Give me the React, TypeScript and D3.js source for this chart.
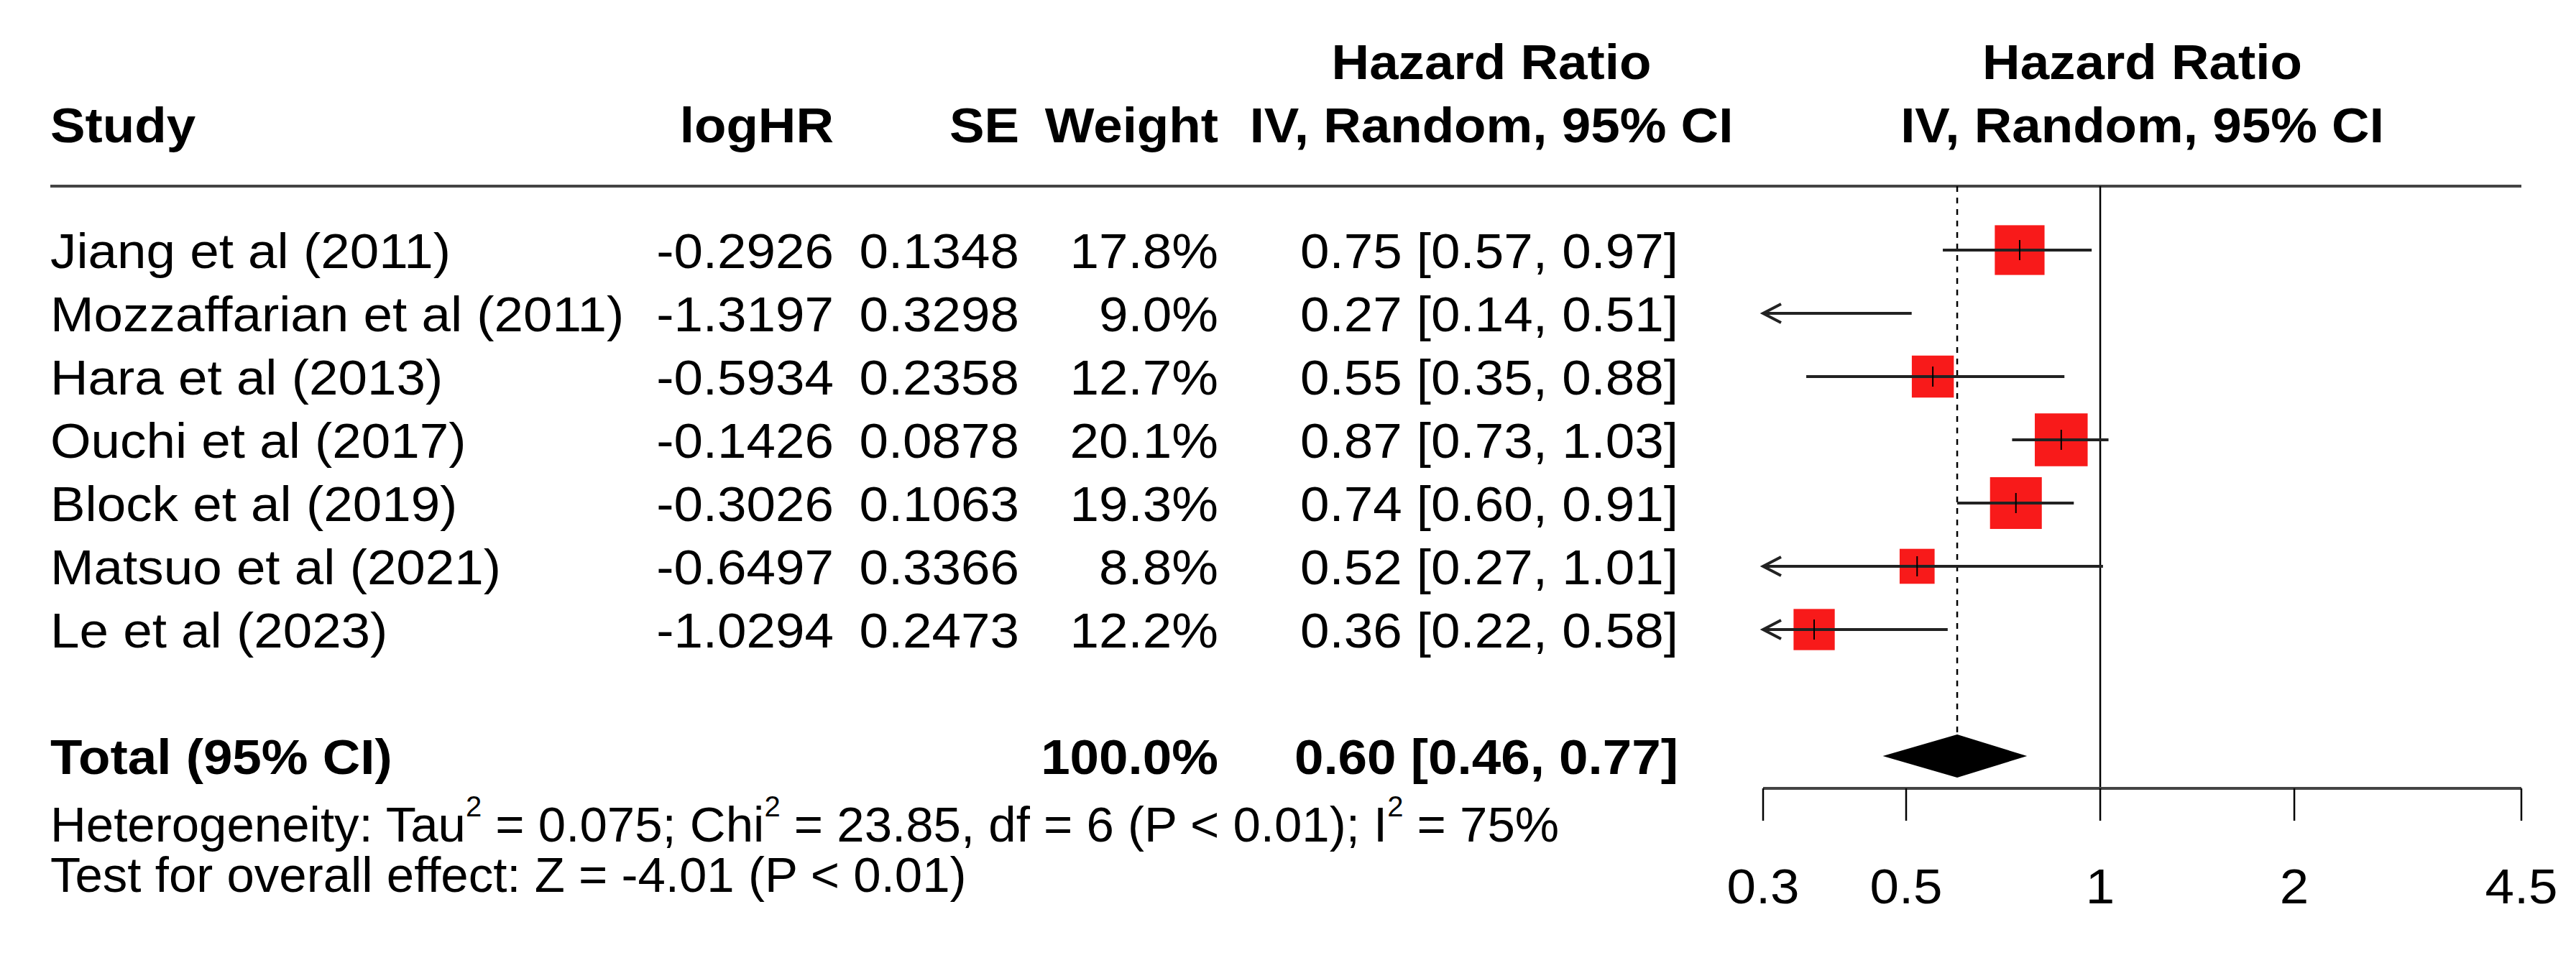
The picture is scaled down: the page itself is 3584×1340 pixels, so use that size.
import React from "react";
import * as d3 from "d3";

// study rows
const studies = [
  "Jiang et al (2011)",
  "Mozzaffarian et al (2011)",
  "Hara et al (2013)",
  "Ouchi et al (2017)",
  "Block et al (2019)",
  "Matsuo et al (2021)",
  "Le et al (2023)",
];
const logHR = ["-0.2926", "-1.3197", "-0.5934", "-0.1426", "-0.3026", "-0.6497", "-1.0294"];
const seValues = ["0.1348", "0.3298", "0.2358", "0.0878", "0.1063", "0.3366", "0.2473"];
const weights = [17.8, 9.0, 12.7, 20.1, 19.3, 8.8, 12.2];
const hr = [0.75, 0.27, 0.55, 0.87, 0.74, 0.52, 0.36];
const lower = [0.57, 0.14, 0.35, 0.73, 0.6, 0.27, 0.22];
const upper = [0.97, 0.51, 0.88, 1.03, 0.91, 1.01, 0.58];

// pooled estimate
const totalHR = 0.6;
const totalLower = 0.46;
const totalUpper = 0.77;
const totalWeight = 100.0;

const ticks = [0.3, 0.5, 1, 2, 4.5];

const W = 3584;
const H = 1340;
const FONT = "'Liberation Sans', Arial, Helvetica, sans-serif";
const FS = 69;
const SX = 1.055; // picture text is a touch wider than Arial

const fmt2 = d3.format(".2f");
const fmt1 = d3.format(".1f");

function T({ x, y, anchor = "start", bold = false, sx = SX, children }: any) {
  return (
    <text
      transform={`translate(${x},${y}) scale(${sx},1)`}
      textAnchor={anchor}
      fontWeight={bold ? "bold" : "normal"}
    >
      {children}
    </text>
  );
}

export default function App() {
  const x = d3.scaleLog().domain([0.3, 4.5]).range([2453, 3508]);
  const rowY = d3.scaleLinear().domain([0, 8]).range([348, 1052]);
  const size = d3.scaleSqrt().domain([0, 100]).range([0, 164]);
  const base = (i: number) => rowY(i) + 25;

  const [xmin, xmax] = x.domain();
  const plotMid = (x(xmin) + x(xmax)) / 2;
  const colStudy = 70;
  const colLog = 1160;
  const colSE = 1418;
  const colW = 1695;
  const colCI = 2335;
  const colCIhead = 2075;
  const ruleY = 259;
  const axisY = 1097;

  const ciText = (h: number, l: number, u: number) => `${fmt2(h)} [${fmt2(l)}, ${fmt2(u)}]`;

  const totalY = rowY(8);
  const diamond = `M${x(totalLower)},${totalY} L${x(totalHR)},${totalY - 30} L${x(totalUpper)},${totalY} L${x(totalHR)},${totalY + 30} Z`;

  return (
    <div style={{ position: "absolute", left: 0, top: 0 }}>
      <svg width={W} height={H} viewBox={`0 0 ${W} ${H}`} style={{ display: "block", background: "#fff" }}>
        <g fontFamily={FONT} fontSize={FS} fill="#000">
          {/* headers */}
          <T x={colCIhead} y={110} anchor="middle" bold>Hazard Ratio</T>
          <T x={plotMid} y={110} anchor="middle" bold>Hazard Ratio</T>
          <T x={colStudy} y={198} bold>Study</T>
          <T x={colLog} y={198} anchor="end" bold>logHR</T>
          <T x={colSE} y={198} anchor="end" bold>SE</T>
          <T x={colW} y={198} anchor="end" bold>Weight</T>
          <T x={colCIhead} y={198} anchor="middle" bold>IV, Random, 95% CI</T>
          <T x={plotMid} y={198} anchor="middle" bold>IV, Random, 95% CI</T>

          {/* study rows */}
          {studies.map((s, i) => (
            <g key={s}>
              <T x={colStudy} y={base(i)}>{s}</T>
              <T x={colLog} y={base(i)} anchor="end">{logHR[i]}</T>
              <T x={colSE} y={base(i)} anchor="end">{seValues[i]}</T>
              <T x={colW} y={base(i)} anchor="end">{fmt1(weights[i])}%</T>
              <T x={colCI} y={base(i)} anchor="end">{ciText(hr[i], lower[i], upper[i])}</T>
            </g>
          ))}

          {/* total */}
          <T x={colStudy} y={base(8)} bold>Total (95% CI)</T>
          <T x={colW} y={base(8)} anchor="end" bold>{fmt1(totalWeight)}%</T>
          <T x={colCI} y={base(8)} anchor="end" bold>{ciText(totalHR, totalLower, totalUpper)}</T>

          <T x={colStudy} y={1171} sx={1}>
            Heterogeneity: Tau<tspan fontSize={40} dy={-35}>2</tspan>
            <tspan dy={35}> = 0.075; Chi</tspan>
            <tspan fontSize={40} dy={-35}>2</tspan>
            <tspan dy={35}> = 23.85, df = 6 (P &lt; 0.01); I</tspan>
            <tspan fontSize={40} dy={-35}>2</tspan>
            <tspan dy={35}> = 75%</tspan>
          </T>
          <T x={colStudy} y={1241} sx={1}>Test for overall effect: Z = -4.01 (P &lt; 0.01)</T>

          {/* axis tick labels */}
          {ticks.map((t) => (
            <T key={t} x={x(t)} y={1257} anchor="middle">{String(t)}</T>
          ))}
        </g>

        {/* header rule */}
        <line x1={colStudy} x2={x(xmax)} y1={ruleY} y2={ruleY} stroke="#444" strokeWidth={4} />

        {/* reference lines */}
        <line x1={x(1)} x2={x(1)} y1={ruleY} y2={axisY} stroke="#000" strokeWidth={2.5} />
        <line
          x1={x(totalHR)}
          x2={x(totalHR)}
          y1={ruleY}
          y2={totalY - 30}
          stroke="#000"
          strokeWidth={2.5}
          strokeDasharray="8 8"
        />

        {/* squares and CIs */}
        {studies.map((s, i) => {
          const y = rowY(i);
          const inside = hr[i] >= xmin && hr[i] <= xmax;
          const side = size(weights[i]);
          const lo = Math.max(lower[i], xmin);
          const hi = Math.min(upper[i], xmax);
          return (
            <g key={s}>
              {inside && (
                <rect x={x(hr[i]) - side / 2} y={y - side / 2} width={side} height={side} fill="#f81a1a" />
              )}
              <line x1={x(lo)} x2={x(hi)} y1={y} y2={y} stroke="#222" strokeWidth={4} />
              {lower[i] < xmin && (
                <path
                  d={`M${x(xmin) + 25},${y - 13} L${x(xmin)},${y} L${x(xmin) + 25},${y + 13}`}
                  fill="none"
                  stroke="#222"
                  strokeWidth={4}
                />
              )}
              {inside && (
                <line x1={x(hr[i])} x2={x(hr[i])} y1={y - 14} y2={y + 14} stroke="#000" strokeWidth={2} />
              )}
            </g>
          );
        })}

        {/* pooled diamond */}
        <path d={diamond} fill="#000" />

        {/* x axis */}
        <line x1={x(xmin)} x2={x(xmax)} y1={axisY} y2={axisY} stroke="#444" strokeWidth={4} />
        {ticks.map((t) => (
          <line key={t} x1={x(t)} x2={x(t)} y1={axisY} y2={axisY + 45} stroke="#000" strokeWidth={2.5} />
        ))}
      </svg>
    </div>
  );
}
